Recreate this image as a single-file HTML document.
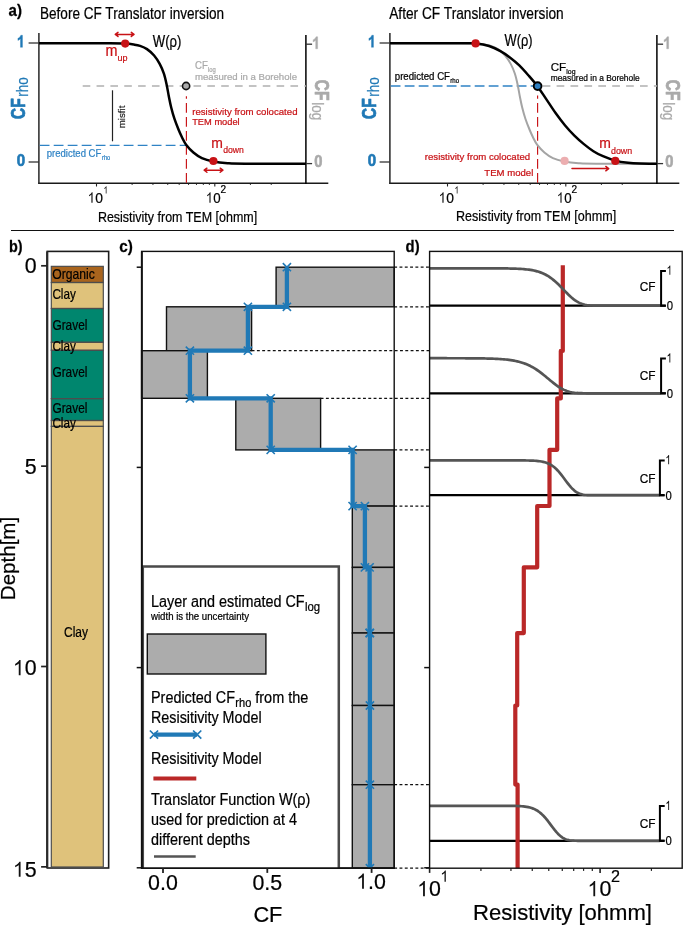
<!DOCTYPE html>
<html><head><meta charset="utf-8"><title>CF Translator figure</title>
<style>
html,body{margin:0;padding:0;background:#fff;overflow:hidden;}
svg{display:block;font-family:"Liberation Sans", sans-serif;will-change:transform;}
text{font-family:"Liberation Sans", sans-serif;}
</style></head>
<body>
<svg width="685" height="925" viewBox="0 0 685 925">
<rect width="685" height="925" fill="#fff"/>
<line x1="38.2" y1="183.3" x2="328.3" y2="183.3" stroke="#1a1a1a" stroke-width="1.6"/>
<line x1="38.9" y1="33" x2="38.9" y2="183.9" stroke="#262626" stroke-width="1.5"/>
<line x1="305.9" y1="34.9" x2="305.9" y2="183.9" stroke="#000" stroke-width="1.5"/>
<line x1="28.6" y1="43" x2="39" y2="43" stroke="#333" stroke-width="1.3"/>
<line x1="28.6" y1="162" x2="39" y2="162" stroke="#333" stroke-width="1.3"/>
<line x1="305.9" y1="44.2" x2="312.09999999999997" y2="44.2" stroke="#333" stroke-width="1.3"/>
<line x1="305.9" y1="163.6" x2="312.09999999999997" y2="163.6" stroke="#333" stroke-width="1.3"/>
<line x1="96.5" y1="183.70000000000002" x2="96.5" y2="186.50000000000003" stroke="#222" stroke-width="1.1"/>
<line x1="132.11" y1="183.70000000000002" x2="132.11" y2="185.00000000000003" stroke="#222" stroke-width="0.9"/>
<line x1="152.94" y1="183.70000000000002" x2="152.94" y2="185.00000000000003" stroke="#222" stroke-width="0.9"/>
<line x1="167.72" y1="183.70000000000002" x2="167.72" y2="185.00000000000003" stroke="#222" stroke-width="0.9"/>
<line x1="179.19" y1="183.70000000000002" x2="179.19" y2="185.00000000000003" stroke="#222" stroke-width="0.9"/>
<line x1="188.56" y1="183.70000000000002" x2="188.56" y2="185.00000000000003" stroke="#222" stroke-width="0.9"/>
<line x1="196.48" y1="183.70000000000002" x2="196.48" y2="185.00000000000003" stroke="#222" stroke-width="0.9"/>
<line x1="203.34" y1="183.70000000000002" x2="203.34" y2="185.00000000000003" stroke="#222" stroke-width="0.9"/>
<line x1="209.39" y1="183.70000000000002" x2="209.39" y2="185.00000000000003" stroke="#222" stroke-width="0.9"/>
<line x1="214.8" y1="183.70000000000002" x2="214.8" y2="186.50000000000003" stroke="#222" stroke-width="1.1"/>
<line x1="250.41" y1="183.70000000000002" x2="250.41" y2="185.00000000000003" stroke="#222" stroke-width="0.9"/>
<line x1="271.24" y1="183.70000000000002" x2="271.24" y2="185.00000000000003" stroke="#222" stroke-width="0.9"/>
<path transform="translate(16.80 47.3) scale(0.00701 0.00817)" d="M806,0 H525 V-1059 Q371,-915 162,-846 V-1101 Q272,-1137 401,-1237.5 Q530,-1338 578,-1472 H806 Z" fill="#2079b6" stroke="#2079b6" stroke-width="48.9" stroke-linejoin="round"/>
<text x="25.2" y="165.6" font-size="16.2" fill="#2079b6" text-anchor="end" font-weight="bold" textLength="8.4" lengthAdjust="spacingAndGlyphs" stroke="#2079b6" stroke-width="0.6" stroke-linejoin="round">0</text>
<path transform="translate(312.00 48.8) scale(0.00701 0.00817)" d="M806,0 H525 V-1059 Q371,-915 162,-846 V-1101 Q272,-1137 401,-1237.5 Q530,-1338 578,-1472 H806 Z" fill="#aaaaaa" stroke="#aaaaaa" stroke-width="48.9" stroke-linejoin="round"/>
<text x="314.3" y="167.2" font-size="16.2" fill="#aaaaaa" font-weight="bold" textLength="8.2" lengthAdjust="spacingAndGlyphs" stroke="#aaaaaa" stroke-width="0.6" stroke-linejoin="round">0</text>
<g transform="translate(25.1 119.2) rotate(-90)">
<text x="0" y="0" font-size="20.8" fill="#2079b6" font-weight="bold" textLength="21" lengthAdjust="spacingAndGlyphs" stroke="#2079b6" stroke-width="0.7" stroke-linejoin="round">CF</text>
<text x="22.4" y="3.3" font-size="16.6" fill="#2079b6" textLength="19.4" lengthAdjust="spacingAndGlyphs"  stroke="#2079b6" stroke-width="0.22">rho</text>
</g>
<g transform="translate(314.8 79.6) rotate(90)">
<text x="0" y="0" font-size="20.8" fill="#aaaaaa" font-weight="bold" textLength="21" lengthAdjust="spacingAndGlyphs" stroke="#aaaaaa" stroke-width="0.7" stroke-linejoin="round">CF</text>
<text x="22.6" y="2.9" font-size="16.6" fill="#aaaaaa" textLength="18" lengthAdjust="spacingAndGlyphs"  stroke="#aaaaaa" stroke-width="0.22">log</text>
</g>
<path transform="translate(87.60 202.8) scale(0.00651 0.00714)" d="M763,0 H583 V-1147 Q518,-1085 412.5,-1023 Q307,-961 223,-930 V-1104 Q374,-1175 487,-1276 Q600,-1377 647,-1472 H763 Z" fill="#111"/>
<text x="95.3" y="202.8" font-size="15.2" fill="#000" textLength="7.7" lengthAdjust="spacingAndGlyphs"  stroke="#000" stroke-width="0.22">0</text>
<path transform="translate(103.40 193.4) scale(0.00406 0.00479)" d="M763,0 H583 V-1147 Q518,-1085 412.5,-1023 Q307,-961 223,-930 V-1104 Q374,-1175 487,-1276 Q600,-1377 647,-1472 H763 Z" fill="#111"/>
<path transform="translate(205.80 202.8) scale(0.00625 0.00714)" d="M763,0 H583 V-1147 Q518,-1085 412.5,-1023 Q307,-961 223,-930 V-1104 Q374,-1175 487,-1276 Q600,-1377 647,-1472 H763 Z" fill="#111"/>
<text x="213.2" y="202.8" font-size="15.2" fill="#000" textLength="7.4" lengthAdjust="spacingAndGlyphs"  stroke="#000" stroke-width="0.22">0</text>
<text x="220.4" y="193.4" font-size="10" fill="#000" textLength="5.6" lengthAdjust="spacingAndGlyphs"  stroke="#000" stroke-width="0.22">2</text>
<text x="97.9" y="221.7" font-size="14.6" fill="#000" textLength="159.3" lengthAdjust="spacingAndGlyphs"  stroke="#000" stroke-width="0.22">Resistivity from TEM [ohmm]</text>
<line x1="389.2" y1="183.3" x2="679.3" y2="183.3" stroke="#1a1a1a" stroke-width="1.6"/>
<line x1="389.9" y1="33" x2="389.9" y2="183.9" stroke="#262626" stroke-width="1.5"/>
<line x1="656.9" y1="34.9" x2="656.9" y2="183.9" stroke="#000" stroke-width="1.5"/>
<line x1="379.6" y1="43" x2="390" y2="43" stroke="#333" stroke-width="1.3"/>
<line x1="379.6" y1="162" x2="390" y2="162" stroke="#333" stroke-width="1.3"/>
<line x1="656.9" y1="44.2" x2="663.1" y2="44.2" stroke="#333" stroke-width="1.3"/>
<line x1="656.9" y1="163.6" x2="663.1" y2="163.6" stroke="#333" stroke-width="1.3"/>
<line x1="447.5" y1="183.70000000000002" x2="447.5" y2="186.50000000000003" stroke="#222" stroke-width="1.1"/>
<line x1="483.11" y1="183.70000000000002" x2="483.11" y2="185.00000000000003" stroke="#222" stroke-width="0.9"/>
<line x1="503.94" y1="183.70000000000002" x2="503.94" y2="185.00000000000003" stroke="#222" stroke-width="0.9"/>
<line x1="518.72" y1="183.70000000000002" x2="518.72" y2="185.00000000000003" stroke="#222" stroke-width="0.9"/>
<line x1="530.19" y1="183.70000000000002" x2="530.19" y2="185.00000000000003" stroke="#222" stroke-width="0.9"/>
<line x1="539.56" y1="183.70000000000002" x2="539.56" y2="185.00000000000003" stroke="#222" stroke-width="0.9"/>
<line x1="547.48" y1="183.70000000000002" x2="547.48" y2="185.00000000000003" stroke="#222" stroke-width="0.9"/>
<line x1="554.34" y1="183.70000000000002" x2="554.34" y2="185.00000000000003" stroke="#222" stroke-width="0.9"/>
<line x1="560.39" y1="183.70000000000002" x2="560.39" y2="185.00000000000003" stroke="#222" stroke-width="0.9"/>
<line x1="565.8" y1="183.70000000000002" x2="565.8" y2="186.50000000000003" stroke="#222" stroke-width="1.1"/>
<line x1="601.41" y1="183.70000000000002" x2="601.41" y2="185.00000000000003" stroke="#222" stroke-width="0.9"/>
<line x1="622.24" y1="183.70000000000002" x2="622.24" y2="185.00000000000003" stroke="#222" stroke-width="0.9"/>
<path transform="translate(367.80 47.3) scale(0.00701 0.00817)" d="M806,0 H525 V-1059 Q371,-915 162,-846 V-1101 Q272,-1137 401,-1237.5 Q530,-1338 578,-1472 H806 Z" fill="#2079b6" stroke="#2079b6" stroke-width="48.9" stroke-linejoin="round"/>
<text x="376.2" y="165.6" font-size="16.2" fill="#2079b6" text-anchor="end" font-weight="bold" textLength="8.4" lengthAdjust="spacingAndGlyphs" stroke="#2079b6" stroke-width="0.6" stroke-linejoin="round">0</text>
<path transform="translate(663.00 48.8) scale(0.00701 0.00817)" d="M806,0 H525 V-1059 Q371,-915 162,-846 V-1101 Q272,-1137 401,-1237.5 Q530,-1338 578,-1472 H806 Z" fill="#aaaaaa" stroke="#aaaaaa" stroke-width="48.9" stroke-linejoin="round"/>
<text x="665.3" y="167.2" font-size="16.2" fill="#aaaaaa" font-weight="bold" textLength="8.2" lengthAdjust="spacingAndGlyphs" stroke="#aaaaaa" stroke-width="0.6" stroke-linejoin="round">0</text>
<g transform="translate(376.1 119.2) rotate(-90)">
<text x="0" y="0" font-size="20.8" fill="#2079b6" font-weight="bold" textLength="21" lengthAdjust="spacingAndGlyphs" stroke="#2079b6" stroke-width="0.7" stroke-linejoin="round">CF</text>
<text x="22.4" y="3.3" font-size="16.6" fill="#2079b6" textLength="19.4" lengthAdjust="spacingAndGlyphs"  stroke="#2079b6" stroke-width="0.22">rho</text>
</g>
<g transform="translate(665.8 79.6) rotate(90)">
<text x="0" y="0" font-size="20.8" fill="#aaaaaa" font-weight="bold" textLength="21" lengthAdjust="spacingAndGlyphs" stroke="#aaaaaa" stroke-width="0.7" stroke-linejoin="round">CF</text>
<text x="22.6" y="2.9" font-size="16.6" fill="#aaaaaa" textLength="18" lengthAdjust="spacingAndGlyphs"  stroke="#aaaaaa" stroke-width="0.22">log</text>
</g>
<path transform="translate(438.60 202.8) scale(0.00651 0.00714)" d="M763,0 H583 V-1147 Q518,-1085 412.5,-1023 Q307,-961 223,-930 V-1104 Q374,-1175 487,-1276 Q600,-1377 647,-1472 H763 Z" fill="#111"/>
<text x="446.3" y="202.8" font-size="15.2" fill="#000" textLength="7.7" lengthAdjust="spacingAndGlyphs"  stroke="#000" stroke-width="0.22">0</text>
<path transform="translate(454.40 193.4) scale(0.00406 0.00479)" d="M763,0 H583 V-1147 Q518,-1085 412.5,-1023 Q307,-961 223,-930 V-1104 Q374,-1175 487,-1276 Q600,-1377 647,-1472 H763 Z" fill="#111"/>
<path transform="translate(556.80 202.8) scale(0.00625 0.00714)" d="M763,0 H583 V-1147 Q518,-1085 412.5,-1023 Q307,-961 223,-930 V-1104 Q374,-1175 487,-1276 Q600,-1377 647,-1472 H763 Z" fill="#111"/>
<text x="564.2" y="202.8" font-size="15.2" fill="#000" textLength="7.4" lengthAdjust="spacingAndGlyphs"  stroke="#000" stroke-width="0.22">0</text>
<text x="571.4" y="193.4" font-size="10" fill="#000" textLength="5.6" lengthAdjust="spacingAndGlyphs"  stroke="#000" stroke-width="0.22">2</text>
<text x="456.0" y="220.8" font-size="14.6" fill="#000" textLength="160.2" lengthAdjust="spacingAndGlyphs"  stroke="#000" stroke-width="0.22">Resistivity from TEM [ohmm]</text>
<text x="8.6" y="15.9" font-size="17.4" fill="#000" font-weight="bold" textLength="13.4" lengthAdjust="spacingAndGlyphs" stroke="#111" stroke-width="0.3" stroke-linejoin="round">a)</text>
<text x="40" y="19.4" font-size="16.6" fill="#000" textLength="184" lengthAdjust="spacingAndGlyphs"  stroke="#000" stroke-width="0.22">Before CF Translator inversion</text>
<text x="389.2" y="19.4" font-size="16.6" fill="#000" textLength="174.5" lengthAdjust="spacingAndGlyphs"  stroke="#000" stroke-width="0.22">After CF Translator inversion</text>
<line x1="82.7" y1="86" x2="306" y2="86" stroke="#b0b0b0" stroke-width="1.4" stroke-dasharray="7.6 6.25"/>
<line x1="39.7" y1="145.4" x2="186.5" y2="145.4" stroke="#2f83c5" stroke-width="1.4" stroke-dasharray="9.8 4.2"/>
<line x1="186.4" y1="182.8" x2="186.4" y2="96.2" stroke="#c81216" stroke-width="1.15" stroke-dasharray="9.8 4.2"/>
<line x1="112.5" y1="90.3" x2="112.5" y2="141.3" stroke="#222" stroke-width="1.2"/>
<path d="M39.00,43.30 C50.83,43.30 95.67,43.25 110.00,43.30 C124.33,43.35 121.00,43.38 125.00,43.60 C129.00,43.82 131.50,44.22 134.00,44.60 C136.50,44.98 137.83,45.15 140.00,45.90 C142.17,46.65 144.65,47.50 147.00,49.10 C149.35,50.70 151.98,53.03 154.10,55.50 C156.22,57.97 158.07,60.87 159.70,63.90 C161.33,66.93 162.73,70.18 163.90,73.70 C165.07,77.22 165.88,81.25 166.70,85.00 C167.52,88.75 168.05,92.45 168.80,96.20 C169.55,99.95 170.27,103.75 171.20,107.50 C172.13,111.25 173.15,114.95 174.40,118.70 C175.65,122.45 177.40,126.83 178.70,130.00 C180.00,133.17 180.97,135.25 182.20,137.70 C183.43,140.15 184.23,142.23 186.10,144.70 C187.97,147.17 190.77,150.27 193.40,152.50 C196.03,154.73 198.62,156.62 201.90,158.10 C205.18,159.58 208.82,160.55 213.10,161.40 C217.38,162.25 222.28,162.82 227.60,163.20 C232.92,163.58 231.93,163.60 245.00,163.70 C258.07,163.80 295.83,163.78 306.00,163.80" fill="none" stroke="#000" stroke-width="2.5" />
<circle cx="125.2" cy="43.6" r="4.1" fill="#c81216"/>
<circle cx="213.4" cy="161" r="4.1" fill="#c81216"/>
<circle cx="186.1" cy="86" r="3.6" fill="#aaaaaa" stroke="#111" stroke-width="1.6"/>
<path d="M115.3,34.4 L134,34.4 M131.3,32.375 L134,34.4 L131.3,36.425 M118.0,32.375 L115.3,34.4 L118.0,36.425" fill="none" stroke="#c81216" stroke-width="1.5" stroke-linecap="round" stroke-linejoin="round"/>
<path d="M204.2,170.2 L222.9,170.2 M220.20000000000002,168.17499999999998 L222.9,170.2 L220.20000000000002,172.225 M206.89999999999998,168.17499999999998 L204.2,170.2 L206.89999999999998,172.225" fill="none" stroke="#c81216" stroke-width="1.5" stroke-linecap="round" stroke-linejoin="round"/>
<text x="152.8" y="47" font-size="15.6" fill="#000" textLength="28.6" lengthAdjust="spacingAndGlyphs"  stroke="#000" stroke-width="0.22">W(&#961;)</text>
<text x="105.4" y="56.3" font-size="15.6" fill="#c81216" textLength="12" lengthAdjust="spacingAndGlyphs"  stroke="#c81216" stroke-width="0.22">m</text>
<text x="117.4" y="61" font-size="9.6" fill="#c81216" textLength="10" lengthAdjust="spacingAndGlyphs"  stroke="#c81216" stroke-width="0.22">up</text>
<text x="211.2" y="147.6" font-size="15.2" fill="#c81216" textLength="11.6" lengthAdjust="spacingAndGlyphs"  stroke="#c81216" stroke-width="0.22">m</text>
<text x="223.2" y="153.3" font-size="9.6" fill="#c81216" textLength="20.6" lengthAdjust="spacingAndGlyphs"  stroke="#c81216" stroke-width="0.22">down</text>
<text x="195" y="69" font-size="10.4" fill="#aaaaaa" textLength="12.8" lengthAdjust="spacingAndGlyphs"  stroke="#aaaaaa" stroke-width="0.22">CF</text>
<text x="208" y="71.9" font-size="6.6" fill="#aaaaaa" textLength="7.8" lengthAdjust="spacingAndGlyphs"  stroke="#aaaaaa" stroke-width="0.22">log</text>
<text x="195" y="79.5" font-size="9.6" fill="#aaaaaa" textLength="102" lengthAdjust="spacingAndGlyphs"  stroke="#aaaaaa" stroke-width="0.22">measured in a Borehole</text>
<text x="192.2" y="114.8" font-size="9.8" fill="#c81216" textLength="105.3" lengthAdjust="spacingAndGlyphs"  stroke="#c81216" stroke-width="0.22">resistivity from colocated</text>
<text x="192.2" y="124.8" font-size="9.8" fill="#c81216" textLength="47.5" lengthAdjust="spacingAndGlyphs"  stroke="#c81216" stroke-width="0.22">TEM model</text>
<text x="46.8" y="157.0" font-size="10.3" fill="#2f83c5" textLength="54.5" lengthAdjust="spacingAndGlyphs"  stroke="#2f83c5" stroke-width="0.22">predicted CF</text>
<text x="102.0" y="160.3" font-size="6.6" fill="#2f83c5" textLength="8.2" lengthAdjust="spacingAndGlyphs"  stroke="#2f83c5" stroke-width="0.22">rho</text>
<text x="124.6" y="128.2" font-size="9.6" fill="#222" textLength="22.6" lengthAdjust="spacingAndGlyphs" transform="rotate(-90 124.6 128.2)"  stroke="#222" stroke-width="0.22">misfit</text>
<line x1="390.7" y1="86" x2="538" y2="86" stroke="#2f83c5" stroke-width="1.4" stroke-dasharray="9.8 4.2"/>
<line x1="542.7" y1="86" x2="657" y2="86" stroke="#b0b0b0" stroke-width="1.4" stroke-dasharray="7.7 6.2"/>
<line x1="537.6" y1="182.8" x2="537.6" y2="95.5" stroke="#c81216" stroke-width="1.15" stroke-dasharray="9.8 4.2"/>
<path d="M390.00,43.30 C401.83,43.30 446.67,43.25 461.00,43.30 C475.33,43.35 472.00,43.38 476.00,43.60 C480.00,43.82 482.50,44.22 485.00,44.60 C487.50,44.98 488.83,45.15 491.00,45.90 C493.17,46.65 495.65,47.50 498.00,49.10 C500.35,50.70 502.98,53.03 505.10,55.50 C507.22,57.97 509.07,60.87 510.70,63.90 C512.33,66.93 513.73,70.18 514.90,73.70 C516.07,77.22 516.88,81.25 517.70,85.00 C518.52,88.75 519.05,92.45 519.80,96.20 C520.55,99.95 521.27,103.75 522.20,107.50 C523.13,111.25 524.15,114.95 525.40,118.70 C526.65,122.45 528.40,126.83 529.70,130.00 C531.00,133.17 531.97,135.25 533.20,137.70 C534.43,140.15 535.23,142.23 537.10,144.70 C538.97,147.17 541.77,150.27 544.40,152.50 C547.03,154.73 549.62,156.62 552.90,158.10 C556.18,159.58 559.82,160.55 564.10,161.40 C568.38,162.25 573.28,162.82 578.60,163.20 C583.92,163.58 582.93,163.60 596.00,163.70 C609.07,163.80 646.83,163.78 657.00,163.80" fill="none" stroke="#a4a4a4" stroke-width="2.0" />
<path d="M390.00,43.30 C402.00,43.30 447.72,43.25 462.00,43.30 C476.28,43.35 471.20,43.15 475.70,43.60 C480.20,44.05 484.88,44.75 489.00,46.00 C493.12,47.25 496.92,49.20 500.40,51.10 C503.88,53.00 506.75,55.02 509.90,57.40 C513.05,59.78 516.15,62.33 519.30,65.40 C522.45,68.47 525.78,72.33 528.80,75.80 C531.82,79.27 534.55,82.40 537.40,86.20 C540.25,90.00 542.90,94.17 545.90,98.60 C548.90,103.03 552.23,108.37 555.40,112.80 C558.57,117.23 561.73,121.40 564.90,125.20 C568.07,129.00 571.23,132.45 574.40,135.60 C577.57,138.75 580.73,141.50 583.90,144.10 C587.07,146.70 590.22,149.18 593.40,151.20 C596.58,153.22 599.35,154.63 603.00,156.20 C606.65,157.77 611.13,159.50 615.30,160.60 C619.47,161.70 623.88,162.30 628.00,162.80 C632.12,163.30 635.17,163.43 640.00,163.60 C644.83,163.77 654.17,163.77 657.00,163.80" fill="none" stroke="#000" stroke-width="2.5" />
<circle cx="475.6" cy="43.4" r="4.1" fill="#c81216"/>
<circle cx="564.6" cy="160.9" r="4.1" fill="#ecaeb0"/>
<circle cx="615.3" cy="160.9" r="4.1" fill="#c81216"/>
<circle cx="537.6" cy="86.1" r="3.9" fill="#2e7fc0" stroke="#000" stroke-width="1.9"/>
<path d="M572,168.6 L608.7,168.6 M605.8000000000001,166.42499999999998 L608.7,168.6 L605.8000000000001,170.775" fill="none" stroke="#c81216" stroke-width="1.5" stroke-linecap="round" stroke-linejoin="round"/>
<text x="504.5" y="46.2" font-size="15.6" fill="#000" textLength="28" lengthAdjust="spacingAndGlyphs"  stroke="#000" stroke-width="0.22">W(&#961;)</text>
<text x="394.8" y="79.8" font-size="10" fill="#000" textLength="55.2" lengthAdjust="spacingAndGlyphs"  stroke="#000" stroke-width="0.22">predicted CF</text>
<text x="450.3" y="83.2" font-size="6.8" fill="#000" textLength="8.8" lengthAdjust="spacingAndGlyphs"  stroke="#000" stroke-width="0.22">rho</text>
<text x="550.7" y="70.6" font-size="11.6" fill="#000" textLength="15.5" lengthAdjust="spacingAndGlyphs"  stroke="#000" stroke-width="0.22">CF</text>
<text x="566.3" y="74.2" font-size="7.2" fill="#000" textLength="9.2" lengthAdjust="spacingAndGlyphs"  stroke="#000" stroke-width="0.22">log</text>
<text x="550.7" y="80.6" font-size="8.6" fill="#000" textLength="89" lengthAdjust="spacingAndGlyphs"  stroke="#000" stroke-width="0.22">measured in a Borehole</text>
<text x="424.8" y="159.6" font-size="9.8" fill="#c81216" textLength="105.3" lengthAdjust="spacingAndGlyphs"  stroke="#c81216" stroke-width="0.22">resistivity from colocated</text>
<text x="484.3" y="175.8" font-size="9.8" fill="#c81216" textLength="49" lengthAdjust="spacingAndGlyphs"  stroke="#c81216" stroke-width="0.22">TEM model</text>
<text x="599.2" y="147.8" font-size="15.2" fill="#c81216" textLength="11.6" lengthAdjust="spacingAndGlyphs"  stroke="#c81216" stroke-width="0.22">m</text>
<text x="611" y="153.6" font-size="9.6" fill="#c81216" textLength="21.2" lengthAdjust="spacingAndGlyphs"  stroke="#c81216" stroke-width="0.22">down</text>
<line x1="11" y1="230.5" x2="674" y2="230.5" stroke="#111" stroke-width="1.2"/>
<text x="8.9" y="252" font-size="17.4" fill="#000" font-weight="bold" textLength="13.6" lengthAdjust="spacingAndGlyphs" stroke="#111" stroke-width="0.3" stroke-linejoin="round">b)</text>
<rect x="47.25" y="251.4" width="61.4" height="616.6" fill="#fff" stroke="#1c1c1c" stroke-width="1.6"/>
<line x1="47.2" y1="251.4" x2="47.2" y2="868" stroke="#2b2b2b" stroke-width="2.2"/>
<rect x="51.3" y="266.35" width="52.1" height="16.15" fill="#a9641d"/>
<rect x="51.3" y="282.5" width="52.1" height="26.0" fill="#dfc27b"/>
<rect x="51.3" y="308.5" width="52.1" height="33.8" fill="#00866e"/>
<rect x="51.3" y="342.3" width="52.1" height="8.0" fill="#dfc27b"/>
<rect x="51.3" y="350.3" width="52.1" height="48.3" fill="#00866e"/>
<rect x="51.3" y="398.6" width="52.1" height="21.9" fill="#00866e"/>
<rect x="51.3" y="420.5" width="52.1" height="5.9" fill="#dfc27b"/>
<rect x="51.3" y="426.4" width="52.1" height="440.6" fill="#dfc27b"/>
<rect x="51.3" y="266.35" width="52" height="16.15" fill="none" stroke="#4d4d4d" stroke-width="1.2"/>
<rect x="51.3" y="282.5" width="52" height="26.0" fill="none" stroke="#4d4d4d" stroke-width="1.2"/>
<rect x="51.3" y="308.5" width="52" height="33.8" fill="none" stroke="#4d4d4d" stroke-width="1.2"/>
<rect x="51.3" y="342.3" width="52" height="8.0" fill="none" stroke="#4d4d4d" stroke-width="1.2"/>
<rect x="51.3" y="350.3" width="52" height="48.3" fill="none" stroke="#4d4d4d" stroke-width="1.2"/>
<rect x="51.3" y="398.6" width="52" height="21.9" fill="none" stroke="#4d4d4d" stroke-width="1.2"/>
<rect x="51.3" y="420.5" width="52" height="5.9" fill="none" stroke="#4d4d4d" stroke-width="1.2"/>
<rect x="51.3" y="426.4" width="52" height="440.6" fill="none" stroke="#4d4d4d" stroke-width="1.2"/>
<line x1="41.1" y1="265.8" x2="47.3" y2="265.8" stroke="#222" stroke-width="1.7"/>
<text x="24.8" y="273.2" font-size="22" fill="#000" textLength="11.9" lengthAdjust="spacingAndGlyphs"  stroke="#000" stroke-width="0.22">0</text>
<line x1="41.1" y1="466.15" x2="47.3" y2="466.15" stroke="#222" stroke-width="1.7"/>
<text x="24.8" y="473.55" font-size="22" fill="#000" textLength="11.9" lengthAdjust="spacingAndGlyphs"  stroke="#000" stroke-width="0.22">5</text>
<line x1="41.1" y1="666.5" x2="47.3" y2="666.5" stroke="#222" stroke-width="1.7"/>
<path transform="translate(12.89 675.3) scale(0.01006 0.01033)" d="M763,0 H583 V-1147 Q518,-1085 412.5,-1023 Q307,-961 223,-930 V-1104 Q374,-1175 487,-1276 Q600,-1377 647,-1472 H763 Z" fill="#111"/>
<text x="24.8" y="675.3" font-size="22" fill="#000" textLength="11.9" lengthAdjust="spacingAndGlyphs"  stroke="#000" stroke-width="0.22">0</text>
<line x1="41.1" y1="866.85" x2="47.3" y2="866.85" stroke="#222" stroke-width="1.7"/>
<path transform="translate(12.89 876.85) scale(0.01006 0.01033)" d="M763,0 H583 V-1147 Q518,-1085 412.5,-1023 Q307,-961 223,-930 V-1104 Q374,-1175 487,-1276 Q600,-1377 647,-1472 H763 Z" fill="#111"/>
<text x="24.8" y="876.85" font-size="22" fill="#000" textLength="11.9" lengthAdjust="spacingAndGlyphs"  stroke="#000" stroke-width="0.22">5</text>
<text x="14.6" y="558.5" font-size="20.8" fill="#000" text-anchor="middle" textLength="83.4" lengthAdjust="spacingAndGlyphs" transform="rotate(-90 14.6 558.5)"  stroke="#000" stroke-width="0.22">Depth[m]</text>
<text x="52.3" y="279.1" font-size="15" fill="#000" textLength="42.6" lengthAdjust="spacingAndGlyphs"  stroke="#000" stroke-width="0.22">Organic</text>
<text x="52.4" y="298.8" font-size="14.6" fill="#000" textLength="23.5" lengthAdjust="spacingAndGlyphs"  stroke="#000" stroke-width="0.22">Clay</text>
<text x="52.4" y="329.7" font-size="14.6" fill="#000" textLength="35" lengthAdjust="spacingAndGlyphs"  stroke="#000" stroke-width="0.22">Gravel</text>
<text x="52.4" y="351.2" font-size="14.6" fill="#000" textLength="23.5" lengthAdjust="spacingAndGlyphs"  stroke="#000" stroke-width="0.22">Clay</text>
<text x="52.4" y="376.5" font-size="14.6" fill="#000" textLength="35" lengthAdjust="spacingAndGlyphs"  stroke="#000" stroke-width="0.22">Gravel</text>
<text x="52.4" y="413.4" font-size="14.6" fill="#000" textLength="35" lengthAdjust="spacingAndGlyphs"  stroke="#000" stroke-width="0.22">Gravel</text>
<text x="52.4" y="428" font-size="14.6" fill="#000" textLength="23.5" lengthAdjust="spacingAndGlyphs"  stroke="#000" stroke-width="0.22">Clay</text>
<text x="64" y="636.8" font-size="14" fill="#000" textLength="24" lengthAdjust="spacingAndGlyphs"  stroke="#000" stroke-width="0.22">Clay</text>
<text x="119.2" y="252" font-size="17.4" fill="#000" font-weight="bold" textLength="13.6" lengthAdjust="spacingAndGlyphs" stroke="#111" stroke-width="0.3" stroke-linejoin="round">c)</text>
<rect x="276.1" y="267.2" width="118.1" height="39.6" fill="#acacac" stroke="#111" stroke-width="1.4"/>
<rect x="166.5" y="306.8" width="85.1" height="43.9" fill="#acacac" stroke="#111" stroke-width="1.4"/>
<rect x="141.6" y="350.7" width="65.8" height="47.6" fill="#acacac" stroke="#111" stroke-width="1.4"/>
<rect x="235.8" y="398.3" width="84.8" height="51.6" fill="#acacac" stroke="#111" stroke-width="1.4"/>
<rect x="352.3" y="449.9" width="41.9" height="56.2" fill="#acacac" stroke="#111" stroke-width="1.4"/>
<rect x="352.3" y="506.1" width="41.9" height="61.3" fill="#acacac" stroke="#111" stroke-width="1.4"/>
<rect x="352.3" y="567.4" width="41.9" height="65.6" fill="#acacac" stroke="#111" stroke-width="1.4"/>
<rect x="352.3" y="633" width="41.9" height="72.5" fill="#acacac" stroke="#111" stroke-width="1.4"/>
<rect x="352.3" y="705.5" width="41.9" height="79.2" fill="#acacac" stroke="#111" stroke-width="1.4"/>
<rect x="352.3" y="784.7" width="41.9" height="83.5" fill="#acacac" stroke="#111" stroke-width="1.4"/>
<rect x="141.6" y="251.4" width="252.6" height="616.8000000000001" fill="none" stroke="#111" stroke-width="1.4"/>
<line x1="394.2" y1="267.2" x2="429.7" y2="267.2" stroke="#111" stroke-width="1.2" stroke-dasharray="2.9 2.4"/>
<line x1="394.2" y1="306.8" x2="429.7" y2="306.8" stroke="#111" stroke-width="1.2" stroke-dasharray="2.9 2.4"/>
<line x1="251.6" y1="350.7" x2="429.7" y2="350.7" stroke="#111" stroke-width="1.2" stroke-dasharray="2.9 2.4"/>
<line x1="320.6" y1="398.3" x2="429.7" y2="398.3" stroke="#111" stroke-width="1.2" stroke-dasharray="2.9 2.4"/>
<line x1="394.2" y1="449.9" x2="429.7" y2="449.9" stroke="#111" stroke-width="1.2" stroke-dasharray="2.9 2.4"/>
<line x1="394.2" y1="506.1" x2="429.7" y2="506.1" stroke="#111" stroke-width="1.2" stroke-dasharray="2.9 2.4"/>
<line x1="394.2" y1="784.7" x2="429.7" y2="784.7" stroke="#111" stroke-width="1.2" stroke-dasharray="2.9 2.4"/>
<line x1="394.2" y1="868.2" x2="429.7" y2="868.2" stroke="#111" stroke-width="1.2" stroke-dasharray="2.9 2.4"/>
<line x1="136.7" y1="267.2" x2="141.8" y2="267.2" stroke="#111" stroke-width="1.5"/>
<line x1="136.7" y1="467.4" x2="141.8" y2="467.4" stroke="#111" stroke-width="1.5"/>
<line x1="136.7" y1="667.6" x2="141.8" y2="667.6" stroke="#111" stroke-width="1.5"/>
<line x1="136.7" y1="867.8" x2="141.8" y2="867.8" stroke="#111" stroke-width="1.5"/>
<clipPath id="clipc"><rect x="140" y="255" width="256" height="613.8000000000001"/></clipPath><g clip-path="url(#clipc)">
<path d="M286.9,267.2 L286.9,306.8 L247.9,306.8 L247.9,350.7 L189.9,350.7 L189.9,398.3 L270.7,398.3 L270.7,449.9 L352.6,449.9 L352.6,506.1 L364.9,506.1 L364.9,567.4 L369.6,567.4 L369.6,633 L369.9,633 L369.9,705.5 L369.9,784.7 L369.9,868.2" fill="none" stroke="#2079b6" stroke-width="4.3" stroke-linejoin="miter"/>
<path d="M282.79999999999995,263.09999999999997 L291.0,271.3 M282.79999999999995,271.3 L291.0,263.09999999999997" stroke="#2079b6" stroke-width="1.6" fill="none"/>
<path d="M282.79999999999995,302.7 L291.0,310.90000000000003 M282.79999999999995,310.90000000000003 L291.0,302.7" stroke="#2079b6" stroke-width="1.6" fill="none"/>
<path d="M243.8,302.7 L252.0,310.90000000000003 M243.8,310.90000000000003 L252.0,302.7" stroke="#2079b6" stroke-width="1.6" fill="none"/>
<path d="M243.8,346.59999999999997 L252.0,354.8 M243.8,354.8 L252.0,346.59999999999997" stroke="#2079b6" stroke-width="1.6" fill="none"/>
<path d="M185.8,346.59999999999997 L194.0,354.8 M185.8,354.8 L194.0,346.59999999999997" stroke="#2079b6" stroke-width="1.6" fill="none"/>
<path d="M185.8,394.2 L194.0,402.40000000000003 M185.8,402.40000000000003 L194.0,394.2" stroke="#2079b6" stroke-width="1.6" fill="none"/>
<path d="M266.59999999999997,394.2 L274.8,402.40000000000003 M266.59999999999997,402.40000000000003 L274.8,394.2" stroke="#2079b6" stroke-width="1.6" fill="none"/>
<path d="M266.59999999999997,445.79999999999995 L274.8,454.0 M266.59999999999997,454.0 L274.8,445.79999999999995" stroke="#2079b6" stroke-width="1.6" fill="none"/>
<path d="M348.5,445.79999999999995 L356.70000000000005,454.0 M348.5,454.0 L356.70000000000005,445.79999999999995" stroke="#2079b6" stroke-width="1.6" fill="none"/>
<path d="M348.5,502.0 L356.70000000000005,510.20000000000005 M348.5,510.20000000000005 L356.70000000000005,502.0" stroke="#2079b6" stroke-width="1.6" fill="none"/>
<path d="M360.79999999999995,502.0 L369.0,510.20000000000005 M360.79999999999995,510.20000000000005 L369.0,502.0" stroke="#2079b6" stroke-width="1.6" fill="none"/>
<path d="M360.79999999999995,563.3 L369.0,571.5 M360.79999999999995,571.5 L369.0,563.3" stroke="#2079b6" stroke-width="1.6" fill="none"/>
<path d="M365.5,563.3 L373.70000000000005,571.5 M365.5,571.5 L373.70000000000005,563.3" stroke="#2079b6" stroke-width="1.6" fill="none"/>
<path d="M365.5,628.9 L373.70000000000005,637.1 M365.5,637.1 L373.70000000000005,628.9" stroke="#2079b6" stroke-width="1.6" fill="none"/>
<path d="M365.79999999999995,628.9 L374.0,637.1 M365.79999999999995,637.1 L374.0,628.9" stroke="#2079b6" stroke-width="1.6" fill="none"/>
<path d="M365.79999999999995,701.4 L374.0,709.6 M365.79999999999995,709.6 L374.0,701.4" stroke="#2079b6" stroke-width="1.6" fill="none"/>
<path d="M365.79999999999995,780.6 L374.0,788.8000000000001 M365.79999999999995,788.8000000000001 L374.0,780.6" stroke="#2079b6" stroke-width="1.6" fill="none"/>
<path d="M365.79999999999995,864.1 L374.0,872.3000000000001 M365.79999999999995,872.3000000000001 L374.0,864.1" stroke="#2079b6" stroke-width="1.6" fill="none"/>
</g>
<rect x="142.4" y="566.4" width="196.4" height="301.80000000000007" fill="#fff"/>
<path d="M142.8,868.2 L142.8,566.4 L338.8,566.4 L338.8,868.8000000000001" fill="none" stroke="#4a4a4a" stroke-width="2.5"/>
<line x1="141.9" y1="251.4" x2="141.9" y2="868.2" stroke="#111" stroke-width="1.9"/>
<line x1="140.9" y1="868.2" x2="394.9" y2="868.2" stroke="#111" stroke-width="1.7"/>
<line x1="163.0" y1="868.2" x2="163.0" y2="872.9000000000001" stroke="#222" stroke-width="1.8"/>
<text x="148.12" y="890.1" font-size="22" fill="#000" textLength="11.9" lengthAdjust="spacingAndGlyphs"  stroke="#000" stroke-width="0.22">0</text>
<text x="160.02" y="890.1" font-size="22" fill="#000" textLength="5.95" lengthAdjust="spacingAndGlyphs"  stroke="#000" stroke-width="0.22">.</text>
<text x="165.98" y="890.1" font-size="22" fill="#000" textLength="11.9" lengthAdjust="spacingAndGlyphs"  stroke="#000" stroke-width="0.22">0</text>
<line x1="267.3" y1="868.2" x2="267.3" y2="872.9000000000001" stroke="#222" stroke-width="1.8"/>
<text x="252.42" y="890.1" font-size="22" fill="#000" textLength="11.9" lengthAdjust="spacingAndGlyphs"  stroke="#000" stroke-width="0.22">0</text>
<text x="264.32" y="890.1" font-size="22" fill="#000" textLength="5.95" lengthAdjust="spacingAndGlyphs"  stroke="#000" stroke-width="0.22">.</text>
<text x="270.28" y="890.1" font-size="22" fill="#000" textLength="11.9" lengthAdjust="spacingAndGlyphs"  stroke="#000" stroke-width="0.22">5</text>
<line x1="371.6" y1="868.2" x2="371.6" y2="872.9000000000001" stroke="#222" stroke-width="1.8"/>
<path transform="translate(356.22 888.8000000000001) scale(0.01006 0.01033)" d="M763,0 H583 V-1147 Q518,-1085 412.5,-1023 Q307,-961 223,-930 V-1104 Q374,-1175 487,-1276 Q600,-1377 647,-1472 H763 Z" fill="#111"/>
<text x="368.12" y="888.8000000000001" font-size="22" fill="#000" textLength="5.95" lengthAdjust="spacingAndGlyphs"  stroke="#000" stroke-width="0.22">.</text>
<text x="374.08" y="888.8000000000001" font-size="22" fill="#000" textLength="11.9" lengthAdjust="spacingAndGlyphs"  stroke="#000" stroke-width="0.22">0</text>
<text x="267.9" y="922.2" font-size="22.2" fill="#000" text-anchor="middle" textLength="29" lengthAdjust="spacingAndGlyphs"  stroke="#000" stroke-width="0.22">CF</text>
<text x="151" y="607" font-size="16" fill="#000" textLength="153.6" lengthAdjust="spacingAndGlyphs"  stroke="#000" stroke-width="0.22">Layer and estimated CF</text>
<text x="305" y="610.6" font-size="12" fill="#000" textLength="15.2" lengthAdjust="spacingAndGlyphs"  stroke="#000" stroke-width="0.22">log</text>
<text x="151" y="619.8" font-size="10" fill="#000" textLength="98" lengthAdjust="spacingAndGlyphs"  stroke="#000" stroke-width="0.22">width is the uncertainty</text>
<rect x="147.3" y="634" width="118.6" height="40" fill="#acacac" stroke="#111" stroke-width="1.4"/>
<text x="151" y="703.3" font-size="16" fill="#000" textLength="84" lengthAdjust="spacingAndGlyphs"  stroke="#000" stroke-width="0.22">Predicted CF</text>
<text x="235.3" y="706.8" font-size="12" fill="#000" textLength="16" lengthAdjust="spacingAndGlyphs"  stroke="#000" stroke-width="0.22">rho</text>
<text x="255.3" y="703.3" font-size="16" fill="#000" textLength="53" lengthAdjust="spacingAndGlyphs"  stroke="#000" stroke-width="0.22">from the</text>
<text x="151" y="722.9" font-size="16" fill="#000" textLength="110.6" lengthAdjust="spacingAndGlyphs"  stroke="#000" stroke-width="0.22">Resisitivity Model</text>
<line x1="154" y1="734.6" x2="197.2" y2="734.6" stroke="#2079b6" stroke-width="4.3"/>
<path d="M149.9,730.5 L158.1,738.7 M149.9,738.7 L158.1,730.5" stroke="#2079b6" stroke-width="1.7" fill="none"/>
<path d="M193.1,730.5 L201.29999999999998,738.7 M193.1,738.7 L201.29999999999998,730.5" stroke="#2079b6" stroke-width="1.7" fill="none"/>
<text x="151" y="764.1" font-size="16" fill="#000" textLength="110.6" lengthAdjust="spacingAndGlyphs"  stroke="#000" stroke-width="0.22">Resisitivity Model</text>
<line x1="153.4" y1="778.5" x2="196.3" y2="778.5" stroke="#ba2828" stroke-width="3.9"/>
<text x="151" y="804.8" font-size="16" fill="#000" textLength="159.4" lengthAdjust="spacingAndGlyphs"  stroke="#000" stroke-width="0.22">Translator Function W(&#961;)</text>
<text x="151" y="824.7" font-size="16" fill="#000" textLength="146" lengthAdjust="spacingAndGlyphs"  stroke="#000" stroke-width="0.22">used for prediction at 4</text>
<text x="151" y="844.9" font-size="16" fill="#000" textLength="99" lengthAdjust="spacingAndGlyphs"  stroke="#000" stroke-width="0.22">different depths</text>
<line x1="154" y1="856.6" x2="195.7" y2="856.6" stroke="#555" stroke-width="2.5"/>
<text x="405.6" y="252" font-size="17.4" fill="#000" font-weight="bold" textLength="14" lengthAdjust="spacingAndGlyphs" stroke="#111" stroke-width="0.3" stroke-linejoin="round">d)</text>
<line x1="424.2" y1="467.4" x2="429.6" y2="467.4" stroke="#111" stroke-width="1.5"/>
<line x1="424.2" y1="667.6" x2="429.6" y2="667.6" stroke="#111" stroke-width="1.5"/>
<line x1="424.2" y1="867.8" x2="429.6" y2="867.8" stroke="#111" stroke-width="1.5"/>
<line x1="429.6" y1="868.2" x2="429.6" y2="872.9000000000001" stroke="#222" stroke-width="1.6"/>
<line x1="600.1" y1="868.2" x2="600.1" y2="872.9000000000001" stroke="#222" stroke-width="1.6"/>
<line x1="480.93" y1="868.2" x2="480.93" y2="870.9000000000001" stroke="#222" stroke-width="1.2"/>
<line x1="510.95" y1="868.2" x2="510.95" y2="870.9000000000001" stroke="#222" stroke-width="1.2"/>
<line x1="532.25" y1="868.2" x2="532.25" y2="870.9000000000001" stroke="#222" stroke-width="1.2"/>
<line x1="548.77" y1="868.2" x2="548.77" y2="870.9000000000001" stroke="#222" stroke-width="1.2"/>
<line x1="562.27" y1="868.2" x2="562.27" y2="870.9000000000001" stroke="#222" stroke-width="1.2"/>
<line x1="573.69" y1="868.2" x2="573.69" y2="870.9000000000001" stroke="#222" stroke-width="1.2"/>
<line x1="583.58" y1="868.2" x2="583.58" y2="870.9000000000001" stroke="#222" stroke-width="1.2"/>
<line x1="592.3" y1="868.2" x2="592.3" y2="870.9000000000001" stroke="#222" stroke-width="1.2"/>
<line x1="651.43" y1="868.2" x2="651.43" y2="870.9000000000001" stroke="#222" stroke-width="1.2"/>
<path transform="translate(417.20 896.3) scale(0.01006 0.01033)" d="M763,0 H583 V-1147 Q518,-1085 412.5,-1023 Q307,-961 223,-930 V-1104 Q374,-1175 487,-1276 Q600,-1377 647,-1472 H763 Z" fill="#111"/>
<text x="429.1" y="896.3" font-size="22" fill="#000" textLength="11.9" lengthAdjust="spacingAndGlyphs"  stroke="#000" stroke-width="0.22">0</text>
<path transform="translate(440.30 881.7) scale(0.00723 0.00761)" d="M763,0 H583 V-1147 Q518,-1085 412.5,-1023 Q307,-961 223,-930 V-1104 Q374,-1175 487,-1276 Q600,-1377 647,-1472 H763 Z" fill="#111"/>
<path transform="translate(587.50 896.3) scale(0.01006 0.01033)" d="M763,0 H583 V-1147 Q518,-1085 412.5,-1023 Q307,-961 223,-930 V-1104 Q374,-1175 487,-1276 Q600,-1377 647,-1472 H763 Z" fill="#111"/>
<text x="599.4" y="896.3" font-size="22" fill="#000" textLength="11.9" lengthAdjust="spacingAndGlyphs"  stroke="#000" stroke-width="0.22">0</text>
<text x="610.9" y="881.9" font-size="16.2" fill="#000"  stroke="#000" stroke-width="0.22">2</text>
<text x="473.0" y="920.4" font-size="21.8" fill="#000" textLength="179" lengthAdjust="spacingAndGlyphs"  stroke="#000" stroke-width="0.22">Resistivity [ohmm]</text>
<line x1="429.6" y1="305.7" x2="665.7" y2="305.7" stroke="#000" stroke-width="2.2"/>
<line x1="429.6" y1="393.3" x2="665.7" y2="393.3" stroke="#000" stroke-width="2.2"/>
<line x1="429.6" y1="495.2" x2="664.5" y2="495.2" stroke="#000" stroke-width="2.2"/>
<line x1="429.6" y1="840.8" x2="664.5" y2="840.8" stroke="#000" stroke-width="2.2"/>
<path d="M562.8,265.2 L562.8,350.9 L560.8,350.9 L560.8,398.4 L557.2,398.4 L557.2,449.8 L549.5,449.8 L549.5,506.0 L537.2,506.0 L537.2,567.3 L523.8,567.3 L523.8,633.1 L517.2,633.1 L517.2,705.5 L515.3,705.5 L515.3,784.6 L517.6,784.6 L517.6,868.2" fill="none" stroke="#ba2828" stroke-width="4.2" stroke-linejoin="round"/>
<path d="M429.60,268.30 L431.25,268.30 L432.91,268.30 L434.56,268.30 L436.21,268.30 L437.87,268.30 L439.52,268.30 L441.18,268.30 L442.83,268.30 L444.48,268.30 L446.14,268.30 L447.79,268.30 L449.44,268.30 L451.10,268.30 L452.75,268.30 L454.40,268.30 L456.06,268.30 L457.71,268.30 L459.36,268.30 L461.02,268.30 L462.67,268.30 L464.33,268.30 L465.98,268.30 L467.63,268.30 L469.29,268.31 L470.94,268.31 L472.59,268.31 L474.25,268.31 L475.90,268.31 L477.55,268.31 L479.21,268.31 L480.86,268.31 L482.51,268.32 L484.17,268.32 L485.82,268.32 L487.48,268.33 L489.13,268.33 L490.78,268.33 L492.44,268.34 L494.09,268.35 L495.74,268.35 L497.40,268.36 L499.05,268.37 L500.70,268.39 L502.36,268.40 L504.01,268.42 L505.66,268.44 L507.32,268.46 L508.97,268.49 L510.62,268.53 L512.28,268.57 L513.93,268.61 L515.59,268.67 L517.24,268.74 L518.89,268.82 L520.55,268.91 L522.20,269.02 L523.85,269.14 L525.51,269.29 L527.16,269.47 L528.81,269.67 L530.47,269.91 L532.12,270.19 L533.77,270.51 L535.43,270.89 L537.08,271.32 L538.74,271.81 L540.39,272.37 L542.04,273.01 L543.70,273.73 L545.35,274.54 L547.00,275.45 L548.66,276.46 L550.31,277.57 L551.96,278.78 L553.62,280.10 L555.27,281.51 L556.93,283.01 L558.58,284.59 L560.23,286.23 L561.89,287.93 L563.54,289.64 L565.19,291.36 L566.85,293.06 L568.50,294.70 L570.15,296.28 L571.81,297.75 L573.46,299.11 L575.11,300.34 L576.77,301.42 L578.42,302.36 L580.08,303.15 L581.73,303.80 L583.38,304.32 L585.04,304.73 L586.69,305.04 L588.34,305.26 L590.00,305.42 L591.65,305.52 L593.30,305.60 L594.96,305.64 L596.61,305.67 L598.26,305.68 L599.92,305.69 L601.57,305.70 L603.23,305.70 L604.88,305.70 L606.53,305.70 L608.19,305.70 L609.84,305.70 L611.49,305.70 L613.15,305.70 L614.80,305.70 L616.45,305.70 L618.11,305.70 L619.76,305.70 L621.41,305.70 L623.07,305.70 L624.72,305.70 L626.38,305.70 L628.03,305.70 L629.68,305.70 L631.34,305.70 L632.99,305.70 L634.64,305.70 L636.30,305.70 L637.95,305.70 L639.60,305.70 L641.26,305.70 L642.91,305.70 L644.56,305.70 L646.22,305.70 L647.87,305.70 L649.53,305.70 L651.18,305.70 L652.83,305.70 L654.49,305.70 L656.14,305.70 L657.79,305.70 L659.45,305.70 L661.10,305.70" fill="none" stroke="#555" stroke-width="2.7" stroke-linejoin="round"/>
<path d="M665.9,270.9 L661.1,270.9 L661.1,305.7 L665.9,305.7" fill="none" stroke="#000" stroke-width="2"/>
<path transform="translate(666.50 274.79999999999995) scale(0.00498 0.00629)" d="M763,0 H583 V-1147 Q518,-1085 412.5,-1023 Q307,-961 223,-930 V-1104 Q374,-1175 487,-1276 Q600,-1377 647,-1472 H763 Z" fill="#111"/>
<text x="666.7" y="310.3" font-size="13.4" fill="#000" textLength="6.3" lengthAdjust="spacingAndGlyphs"  stroke="#000" stroke-width="0.22">0</text>
<text x="639.8" y="290.9" font-size="13.6" fill="#000" textLength="15.8" lengthAdjust="spacingAndGlyphs"  stroke="#000" stroke-width="0.22">CF</text>
<path d="M429.60,358.21 L431.25,358.21 L432.91,358.21 L434.56,358.21 L436.21,358.21 L437.87,358.22 L439.52,358.22 L441.18,358.22 L442.83,358.22 L444.48,358.22 L446.14,358.22 L447.79,358.23 L449.44,358.23 L451.10,358.23 L452.75,358.23 L454.40,358.24 L456.06,358.24 L457.71,358.25 L459.36,358.25 L461.02,358.26 L462.67,358.26 L464.33,358.27 L465.98,358.28 L467.63,358.29 L469.29,358.30 L470.94,358.31 L472.59,358.32 L474.25,358.33 L475.90,358.35 L477.55,358.37 L479.21,358.39 L480.86,358.41 L482.51,358.44 L484.17,358.47 L485.82,358.50 L487.48,358.54 L489.13,358.58 L490.78,358.63 L492.44,358.69 L494.09,358.75 L495.74,358.83 L497.40,358.91 L499.05,359.00 L500.70,359.11 L502.36,359.23 L504.01,359.37 L505.66,359.52 L507.32,359.70 L508.97,359.90 L510.62,360.12 L512.28,360.38 L513.93,360.66 L515.59,360.98 L517.24,361.34 L518.89,361.74 L520.55,362.19 L522.20,362.69 L523.85,363.25 L525.51,363.86 L527.16,364.53 L528.81,365.27 L530.47,366.07 L532.12,366.95 L533.77,367.90 L535.43,368.91 L537.08,370.00 L538.74,371.15 L540.39,372.36 L542.04,373.63 L543.70,374.94 L545.35,376.29 L547.00,377.67 L548.66,379.06 L550.31,380.44 L551.96,381.81 L553.62,383.14 L555.27,384.42 L556.93,385.64 L558.58,386.78 L560.23,387.83 L561.89,388.78 L563.54,389.62 L565.19,390.36 L566.85,391.00 L568.50,391.53 L570.15,391.97 L571.81,392.32 L573.46,392.60 L575.11,392.81 L576.77,392.97 L578.42,393.08 L580.08,393.16 L581.73,393.21 L583.38,393.25 L585.04,393.27 L586.69,393.28 L588.34,393.29 L590.00,393.30 L591.65,393.30 L593.30,393.30 L594.96,393.30 L596.61,393.30 L598.26,393.30 L599.92,393.30 L601.57,393.30 L603.23,393.30 L604.88,393.30 L606.53,393.30 L608.19,393.30 L609.84,393.30 L611.49,393.30 L613.15,393.30 L614.80,393.30 L616.45,393.30 L618.11,393.30 L619.76,393.30 L621.41,393.30 L623.07,393.30 L624.72,393.30 L626.38,393.30 L628.03,393.30 L629.68,393.30 L631.34,393.30 L632.99,393.30 L634.64,393.30 L636.30,393.30 L637.95,393.30 L639.60,393.30 L641.26,393.30 L642.91,393.30 L644.56,393.30 L646.22,393.30 L647.87,393.30 L649.53,393.30 L651.18,393.30 L652.83,393.30 L654.49,393.30 L656.14,393.30 L657.79,393.30 L659.45,393.30 L661.10,393.30" fill="none" stroke="#555" stroke-width="2.7" stroke-linejoin="round"/>
<path d="M665.9,358.5 L661.1,358.5 L661.1,393.3 L665.9,393.3" fill="none" stroke="#000" stroke-width="2"/>
<path transform="translate(666.50 362.4) scale(0.00498 0.00629)" d="M763,0 H583 V-1147 Q518,-1085 412.5,-1023 Q307,-961 223,-930 V-1104 Q374,-1175 487,-1276 Q600,-1377 647,-1472 H763 Z" fill="#111"/>
<text x="666.7" y="397.90000000000003" font-size="13.4" fill="#000" textLength="6.3" lengthAdjust="spacingAndGlyphs"  stroke="#000" stroke-width="0.22">0</text>
<text x="639.8" y="379.7" font-size="13.6" fill="#000" textLength="15.8" lengthAdjust="spacingAndGlyphs"  stroke="#000" stroke-width="0.22">CF</text>
<path d="M429.60,460.40 L431.25,460.40 L432.89,460.40 L434.54,460.40 L436.18,460.40 L437.83,460.40 L439.47,460.40 L441.12,460.40 L442.76,460.40 L444.41,460.40 L446.05,460.40 L447.69,460.40 L449.34,460.40 L450.99,460.40 L452.63,460.40 L454.28,460.40 L455.92,460.40 L457.56,460.40 L459.21,460.40 L460.86,460.40 L462.50,460.40 L464.15,460.40 L465.79,460.40 L467.44,460.40 L469.08,460.40 L470.73,460.40 L472.37,460.40 L474.01,460.40 L475.66,460.40 L477.31,460.40 L478.95,460.40 L480.60,460.40 L482.24,460.40 L483.88,460.40 L485.53,460.40 L487.18,460.40 L488.82,460.40 L490.47,460.40 L492.11,460.40 L493.75,460.40 L495.40,460.40 L497.05,460.40 L498.69,460.40 L500.34,460.40 L501.98,460.40 L503.62,460.40 L505.27,460.40 L506.92,460.40 L508.56,460.40 L510.20,460.40 L511.85,460.41 L513.50,460.41 L515.14,460.41 L516.78,460.41 L518.43,460.42 L520.08,460.42 L521.72,460.43 L523.37,460.45 L525.01,460.46 L526.65,460.48 L528.30,460.51 L529.95,460.55 L531.59,460.60 L533.24,460.67 L534.88,460.76 L536.52,460.88 L538.17,461.04 L539.82,461.24 L541.46,461.50 L543.11,461.83 L544.75,462.25 L546.39,462.77 L548.04,463.42 L549.68,464.20 L551.33,465.14 L552.98,466.25 L554.62,467.56 L556.26,469.05 L557.91,470.73 L559.56,472.60 L561.20,474.61 L562.85,476.75 L564.49,478.95 L566.13,481.18 L567.78,483.37 L569.42,485.45 L571.07,487.38 L572.71,489.11 L574.36,490.60 L576.00,491.84 L577.65,492.84 L579.29,493.60 L580.94,494.16 L582.59,494.56 L584.23,494.82 L585.88,494.99 L587.52,495.09 L589.16,495.14 L590.81,495.17 L592.46,495.19 L594.10,495.20 L595.75,495.20 L597.39,495.20 L599.03,495.20 L600.68,495.20 L602.33,495.20 L603.97,495.20 L605.62,495.20 L607.26,495.20 L608.90,495.20 L610.55,495.20 L612.19,495.20 L613.84,495.20 L615.49,495.20 L617.13,495.20 L618.77,495.20 L620.42,495.20 L622.07,495.20 L623.71,495.20 L625.36,495.20 L627.00,495.20 L628.64,495.20 L630.29,495.20 L631.93,495.20 L633.58,495.20 L635.22,495.20 L636.87,495.20 L638.51,495.20 L640.16,495.20 L641.80,495.20 L643.45,495.20 L645.10,495.20 L646.74,495.20 L648.38,495.20 L650.03,495.20 L651.67,495.20 L653.32,495.20 L654.96,495.20 L656.61,495.20 L658.25,495.20 L659.90,495.20" fill="none" stroke="#555" stroke-width="2.7" stroke-linejoin="round"/>
<path d="M664.6999999999999,460.4 L659.9,460.4 L659.9,495.2 L664.6999999999999,495.2" fill="none" stroke="#000" stroke-width="2"/>
<path transform="translate(665.30 464.29999999999995) scale(0.00498 0.00629)" d="M763,0 H583 V-1147 Q518,-1085 412.5,-1023 Q307,-961 223,-930 V-1104 Q374,-1175 487,-1276 Q600,-1377 647,-1472 H763 Z" fill="#111"/>
<text x="665.5" y="499.8" font-size="13.4" fill="#000" textLength="6.3" lengthAdjust="spacingAndGlyphs"  stroke="#000" stroke-width="0.22">0</text>
<text x="639.8" y="483.2" font-size="13.6" fill="#000" textLength="15.8" lengthAdjust="spacingAndGlyphs"  stroke="#000" stroke-width="0.22">CF</text>
<path d="M429.60,805.80 L431.25,805.80 L432.89,805.80 L434.54,805.80 L436.18,805.80 L437.83,805.80 L439.47,805.80 L441.12,805.80 L442.76,805.80 L444.41,805.80 L446.05,805.80 L447.69,805.80 L449.34,805.80 L450.99,805.80 L452.63,805.80 L454.28,805.80 L455.92,805.80 L457.56,805.80 L459.21,805.80 L460.86,805.80 L462.50,805.80 L464.15,805.80 L465.79,805.80 L467.44,805.80 L469.08,805.80 L470.73,805.80 L472.37,805.80 L474.01,805.80 L475.66,805.80 L477.31,805.80 L478.95,805.80 L480.60,805.80 L482.24,805.80 L483.88,805.80 L485.53,805.80 L487.18,805.80 L488.82,805.80 L490.47,805.80 L492.11,805.80 L493.75,805.80 L495.40,805.80 L497.05,805.81 L498.69,805.81 L500.34,805.81 L501.98,805.81 L503.62,805.82 L505.27,805.83 L506.92,805.83 L508.56,805.85 L510.20,805.86 L511.85,805.88 L513.50,805.91 L515.14,805.95 L516.78,806.00 L518.43,806.07 L520.08,806.15 L521.72,806.26 L523.37,806.41 L525.01,806.60 L526.65,806.84 L528.30,807.15 L529.95,807.54 L531.59,808.02 L533.24,808.62 L534.88,809.34 L536.52,810.21 L538.17,811.25 L539.82,812.47 L541.46,813.87 L543.11,815.45 L544.75,817.22 L546.39,819.15 L548.04,821.21 L549.68,823.37 L551.33,825.57 L552.98,827.77 L554.62,829.89 L556.26,831.89 L557.91,833.72 L559.56,835.34 L561.20,836.72 L562.85,837.85 L564.49,838.75 L566.13,839.42 L567.78,839.92 L569.42,840.26 L571.07,840.48 L572.71,840.63 L574.36,840.71 L576.00,840.75 L577.65,840.78 L579.29,840.79 L580.94,840.80 L582.59,840.80 L584.23,840.80 L585.88,840.80 L587.52,840.80 L589.16,840.80 L590.81,840.80 L592.46,840.80 L594.10,840.80 L595.75,840.80 L597.39,840.80 L599.03,840.80 L600.68,840.80 L602.33,840.80 L603.97,840.80 L605.62,840.80 L607.26,840.80 L608.90,840.80 L610.55,840.80 L612.19,840.80 L613.84,840.80 L615.49,840.80 L617.13,840.80 L618.77,840.80 L620.42,840.80 L622.07,840.80 L623.71,840.80 L625.36,840.80 L627.00,840.80 L628.64,840.80 L630.29,840.80 L631.93,840.80 L633.58,840.80 L635.22,840.80 L636.87,840.80 L638.51,840.80 L640.16,840.80 L641.80,840.80 L643.45,840.80 L645.10,840.80 L646.74,840.80 L648.38,840.80 L650.03,840.80 L651.67,840.80 L653.32,840.80 L654.96,840.80 L656.61,840.80 L658.25,840.80 L659.90,840.80" fill="none" stroke="#555" stroke-width="2.7" stroke-linejoin="round"/>
<path d="M664.6999999999999,806.0 L659.9,806.0 L659.9,840.8 L664.6999999999999,840.8" fill="none" stroke="#000" stroke-width="2"/>
<path transform="translate(665.30 809.9) scale(0.00498 0.00629)" d="M763,0 H583 V-1147 Q518,-1085 412.5,-1023 Q307,-961 223,-930 V-1104 Q374,-1175 487,-1276 Q600,-1377 647,-1472 H763 Z" fill="#111"/>
<text x="665.5" y="845.4" font-size="13.4" fill="#000" textLength="6.3" lengthAdjust="spacingAndGlyphs"  stroke="#000" stroke-width="0.22">0</text>
<text x="639.8" y="827.6999999999999" font-size="13.6" fill="#000" textLength="15.8" lengthAdjust="spacingAndGlyphs"  stroke="#000" stroke-width="0.22">CF</text>
<rect x="429.6" y="251.4" width="252.60000000000002" height="616.8000000000001" fill="none" stroke="#111" stroke-width="1.4"/>
</svg>
</body></html>
